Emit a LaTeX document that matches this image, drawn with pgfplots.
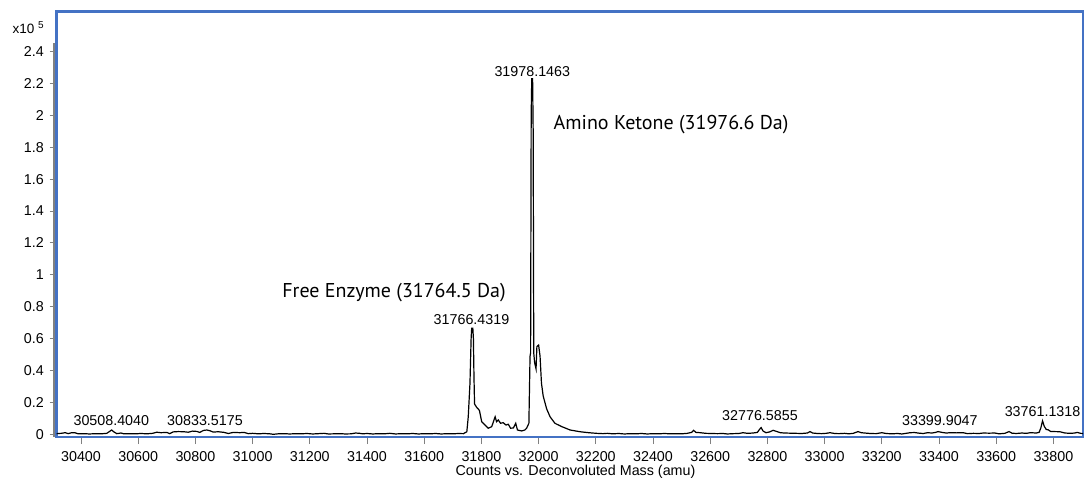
\documentclass[border=0pt]{standalone}
\usepackage{fontspec}
\setmainfont{Liberation Sans}
\newfontfamily\annfont{PT Sans}
\usepackage{pgfplots}
\pgfplotsset{compat=1.18}
\definecolor{frameblue}{RGB}{68,114,196}
\definecolor{axgray}{RGB}{128,128,128}
\begin{document}
\fontsize{14.3}{17}\selectfont
\begin{tikzpicture}
\begin{axis}[
  at={(56.7pt,43pt)}, anchor=south west,
  scale only axis, width=1026.3pt, height=425.7pt,
  xmin=30315, xmax=33903.5, ymin=-0.017, ymax=2.653,
  scaled x ticks=false, scaled y ticks=false,
  axis line style={frameblue, line width=2.7pt},
  tick align=outside, xtick pos=lower, ytick pos=left,
  major tick length=7pt,
  tick style={axgray, line width=1pt},
  xtick={30400,30600,30800,31000,31200,31400,31600,31800,32000,32200,32400,32600,32800,33000,33200,33400,33600,33800},
  xticklabels={30400,30600,30800,31000,31200,31400,31600,31800,32000,32200,32400,32600,32800,33000,33200,33400,33600,33800},
  ytick={0,0.2,0.4,0.6,0.8,1,1.2,1.4,1.6,1.8,2,2.2,2.4},
  yticklabels={0,0.2,0.4,0.6,0.8,1,1.2,1.4,1.6,1.8,2,2.2,2.4},
  ticklabel style={font=\fontsize{14.3}{17}\selectfont},
  xticklabel style={yshift=-3pt},
  yticklabel style={xshift=-1pt},
  xlabel={Counts vs. Deconvoluted Mass (amu)},
  xlabel style={at={(axis description cs:0.5055,0)}, anchor=center, yshift=-35pt, font=\fontsize{14.3}{17}\selectfont},
]
\addplot[black, line width=1.2pt] table {
30315 0.004
30330 0.006
30345 0.010
30355 0.004
30365 0.009
30378 0.010
30390 0.003
30410 0.004
30430 0.002
30450 0.004
30470 0.003
30490 0.006
30500 0.018
30507 0.027
30515 0.015
30525 0.004
30540 0.008
30550 0.003
30570 0.004
30590 0.003
30610 0.005
30630 0.003
30650 0.006
30665 0.013
30680 0.010
30700 0.012
30710 0.004
30722 0.015
30740 0.017
30760 0.016
30775 0.013
30790 0.020
30805 0.018
30815 0.012
30828 0.024
30840 0.027
30851 0.022
30862 0.014
30880 0.016
30900 0.012
30915 0.005
30933 0.012
30955 0.010
30970 0.012
30985 0.004
31000 0.006
31020 0.003
31040 0.005
31060 0.003
31072 0.000
31090 0.003
31110 0.004
31130 0.002
31150 0.004
31170 0.003
31190 0.005
31210 0.002
31230 0.004
31250 0.006
31265 0.002
31285 0.003
31305 0.004
31325 0.002
31345 0.003
31360 0.008
31375 0.006
31385 0.003
31400 0.005
31420 0.002
31440 0.004
31460 0.003
31480 0.006
31500 0.002
31520 0.004
31540 0.003
31560 0.005
31580 0.002
31600 0.004
31620 0.003
31640 0.005
31660 0.002
31680 0.004
31700 0.003
31720 0.005
31737 0.004
31749 0.016
31754 0.11
31760 0.32
31764 0.60
31766 0.665
31770 0.665
31772 0.60
31774 0.36
31776 0.19
31783 0.17
31793 0.15
31801 0.079
31813 0.058
31824 0.038
31836 0.048
31848 0.11
31853 0.079
31859 0.09
31867 0.069
31876 0.073
31886 0.058
31894 0.063
31902 0.038
31912 0.040
31920 0.069
31926 0.027
31941 0.021
31952 0.027
31958 0.038
31966 0.069
31970 0.49
31972 0.51
31974 2.0
31976 2.23
31979 2.23
31981 1.9
31983 0.51
31986 0.45
31991 0.41
31994 0.55
32000 0.56
32005 0.49
32010 0.32
32016 0.24
32028 0.16
32040 0.11
32057 0.069
32081 0.048
32110 0.027
32145 0.016
32175 0.010
32203 0.006
32225 0.004
32240 0.006
32260 0.003
32280 0.005
32300 0.002
32320 0.004
32340 0.003
32360 0.005
32380 0.002
32400 0.004
32420 0.003
32440 0.005
32460 0.003
32480 0.004
32500 0.003
32520 0.006
32535 0.012
32542 0.025
32550 0.012
32565 0.010
32585 0.006
32605 0.005
32625 0.004
32645 0.005
32660 0.002
32680 0.004
32700 0.005
32715 0.010
32730 0.006
32750 0.008
32765 0.012
32772 0.030
32778 0.042
32785 0.020
32795 0.010
32808 0.015
32820 0.025
32832 0.018
32845 0.010
32860 0.008
32880 0.007
32900 0.006
32920 0.005
32940 0.008
32949 0.017
32958 0.008
32975 0.005
32990 0.004
33005 0.006
33019 0.010
33035 0.005
33050 0.004
33070 0.006
33085 0.003
33100 0.006
33117 0.017
33128 0.010
33140 0.008
33160 0.005
33180 0.004
33200 0.010
33215 0.005
33235 0.003
33255 0.005
33270 0.002
33285 0.006
33299 0.010
33315 0.011
33330 0.007
33345 0.005
33360 0.010
33375 0.008
33388 0.012
33397 0.017
33410 0.012
33425 0.008
33440 0.010
33460 0.009
33484 0.010
33500 0.004
33520 0.006
33540 0.005
33555 0.008
33575 0.007
33595 0.008
33610 0.003
33630 0.006
33645 0.017
33655 0.007
33670 0.005
33690 0.008
33705 0.006
33720 0.010
33740 0.008
33750 0.012
33756 0.040
33762 0.084
33768 0.050
33775 0.030
33782 0.028
33790 0.018
33805 0.017
33823 0.016
33840 0.008
33860 0.006
33875 0.008
33883 0.012
33895 0.006
33905 0.005
};
\node[font=\fontsize{14.3}{17}\selectfont] at (axis cs:31978,2.273) {31978.1463};
\node[font=\fontsize{14.3}{17}\selectfont] at (axis cs:31765.4,0.720) {31766.4319};
\node[font=\fontsize{14.3}{17}\selectfont] at (axis cs:30506,0.085) {30508.4040};
\node[font=\fontsize{14.3}{17}\selectfont] at (axis cs:30833.6,0.085) {30833.5175};
\node[font=\fontsize{14.3}{17}\selectfont] at (axis cs:32774,0.115) {32776.5855};
\node[font=\fontsize{14.3}{17}\selectfont] at (axis cs:33403,0.085) {33399.9047};
\node[font=\fontsize{14.3}{17}\selectfont] at (axis cs:33762,0.142) {33761.1318};
\node[font=\annfont\fontsize{20}{24}\selectfont] at (axis cs:31494.4,0.886) {Free Enzyme (31764.5 Da)};
\node[font=\annfont\fontsize{20}{24}\selectfont] at (axis cs:32463,1.94) {Amino Ketone (31976.6 Da)};
\coordinate (bl) at (rel axis cs:0,0);
\coordinate (tl) at (rel axis cs:0,1);
\end{axis}
\draw[axgray, line width=2pt] ([xshift=-2.7pt]bl) -- ([xshift=-2.7pt,yshift=-32pt]tl);
\node[font=\fontsize{13.5}{16}\selectfont, inner sep=0pt] at ([xshift=-33.2pt,yshift=-17.7pt]tl) {x10};
\node[font=\fontsize{10}{12}\selectfont, inner sep=0pt] at ([xshift=-15.7pt,yshift=-13.7pt]tl) {5};
\pgfresetboundingbox
\useasboundingbox (0,0) rectangle (1084pt,480pt);
\end{tikzpicture}
\end{document}
